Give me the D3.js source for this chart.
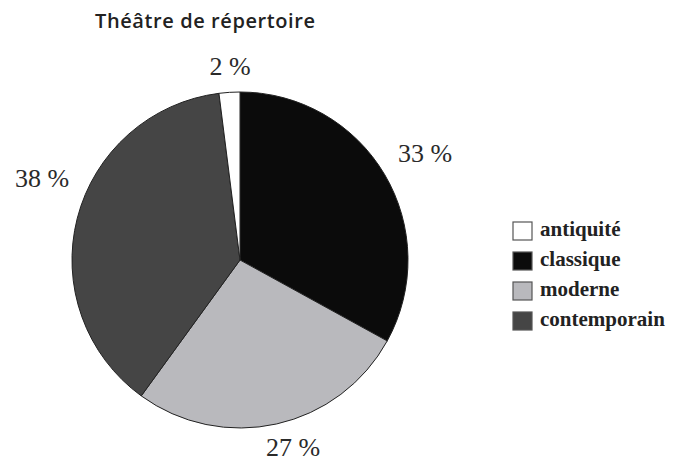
<!DOCTYPE html>
<html><head><meta charset="utf-8">
<script src="https://cdn.jsdelivr.net/npm/d3@7"></script>
<style>body{margin:0;background:#fff}
.serif{font-family:"Liberation Serif","Times New Roman","DejaVu Serif",serif}</style>
</head><body>
<svg id="c" width="683" height="462"></svg>
<script>
const categories = ["classique", "moderne", "contemporain", "antiquité"];
const values = [33, 27, 38, 2];
const labels = ["33 %", "27 %", "38 %", "2 %"];
const legendOrder = ["antiquité", "classique", "moderne", "contemporain"];
const colors = {"antiquité": "#ffffff", "classique": "#0b0b0b", "moderne": "#b9b9bd", "contemporain": "#454545"};

const svg = d3.select("#c");
const cx = 240, cy = 260, r = 168;

svg.append("text").attr("x", 95).attr("y", 28)
  .attr("font-family", "'Open Sans', 'Noto Sans', sans-serif").attr("font-weight", 600)
  .attr("font-size", 20).attr("fill", "#222").attr("textLength", 220)
  .text("Théâtre de répertoire");

const data = categories.map((c, i) => ({cat: c, v: values[i], label: labels[i]}));
const pie = d3.pie().sort(null).value(d => d.v);
const arcs = pie(data);
const arc = d3.arc().innerRadius(0).outerRadius(r);
const g = svg.append("g").attr("transform", `translate(${cx},${cy})`);
g.selectAll("path").data(arcs).join("path")
  .attr("d", arc).attr("fill", d => colors[d.data.cat])
  .attr("stroke", "#222").attr("stroke-width", 1);

const labelPos = {"classique": [425, 162], "moderne": [293, 456], "contemporain": [42, 187], "antiquité": [230, 75]};
svg.selectAll("text.lbl").data(arcs).join("text").attr("class", "lbl serif")
  .attr("x", d => labelPos[d.data.cat][0]).attr("y", d => labelPos[d.data.cat][1])
  .attr("text-anchor", "middle")
  .attr("font-size", 26)
  .attr("fill", "#2a2a2a")
  .text(d => d.data.label);

const leg = svg.append("g");
const ly = d3.scaleBand().domain(legendOrder).range([221, 341]);
leg.selectAll("rect").data(legendOrder).join("rect")
  .attr("x", 513).attr("y", d => ly(d) + 1).attr("width", 19).attr("height", 18)
  .attr("fill", d => colors[d]).attr("stroke", "#555").attr("stroke-width", 1.2);
leg.selectAll("text").data(legendOrder).join("text").attr("class", "serif")
  .attr("x", 540).attr("y", d => ly(d) + 15)
  .attr("font-weight", "bold")
  .attr("font-size", 21).attr("fill", "#222").text(d => d);
</script>
</body></html>
